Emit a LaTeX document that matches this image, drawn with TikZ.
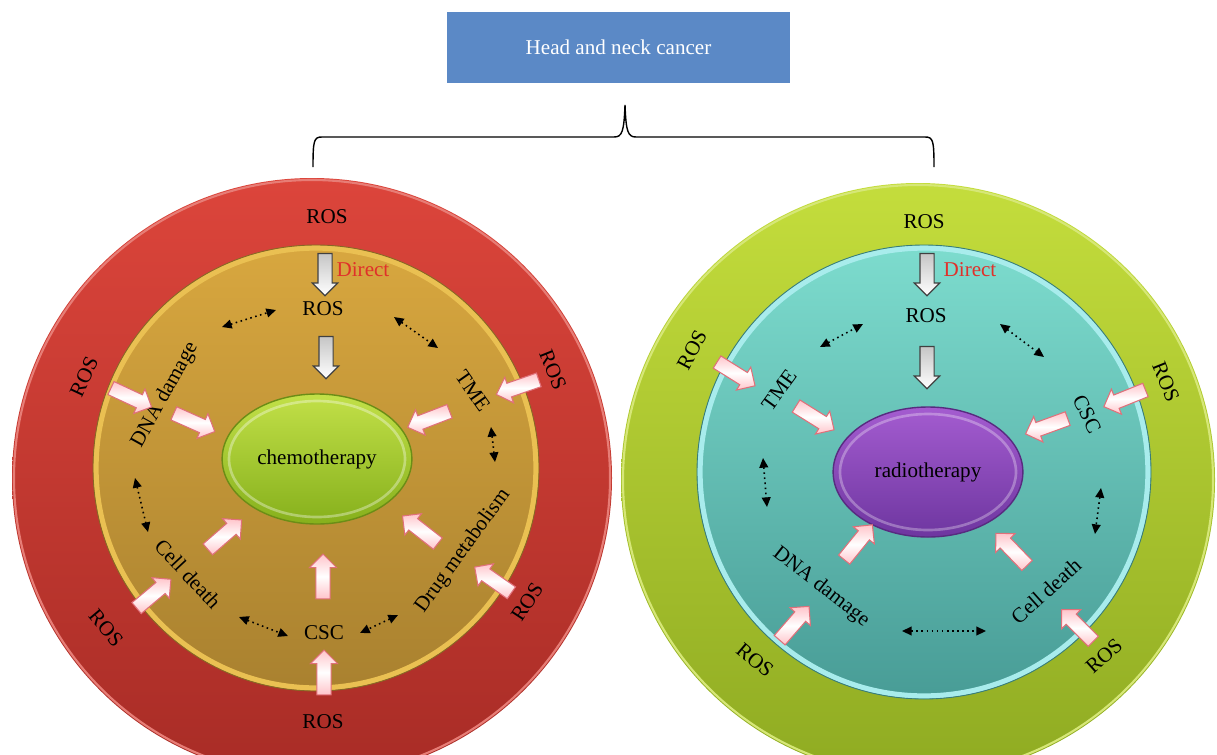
\documentclass[tikz,border=0pt]{standalone}
\usepackage{fontspec}
\setmainfont{Liberation Serif}
\usetikzlibrary{shapes.arrows,shapes.geometric,arrows.meta}

\definecolor{redtop}{HTML}{DC453B}
\definecolor{redbot}{HTML}{A82C26}
\definecolor{tantop}{HTML}{D8A73F}
\definecolor{tanbot}{HTML}{A9812F}
\definecolor{tanrim}{HTML}{EAC052}
\definecolor{limetop}{HTML}{C4DD3C}
\definecolor{limebot}{HTML}{8FAB22}
\definecolor{cyantop}{HTML}{7DDCCE}
\definecolor{cyanbot}{HTML}{489C96}
\definecolor{cyanrim}{HTML}{A8ECEC}
\definecolor{chemotop}{HTML}{C2E048}
\definecolor{chemobot}{HTML}{86B01C}
\definecolor{radiotop}{HTML}{A45CD0}
\definecolor{radiobot}{HTML}{6E36A0}
\definecolor{boxblue}{HTML}{5B89C6}
\definecolor{pinkfill}{HTML}{FFC4CA}
\definecolor{pinkedge}{HTML}{E0707A}
\definecolor{directred}{HTML}{E0302A}

\tikzset{
  lbl/.style={font=\fontsize{12}{14}\selectfont, text=black, inner sep=1pt},
  pinkarrow/.style={single arrow, draw=pinkedge, line width=0.6pt,
    top color=pinkfill, bottom color=pinkfill, middle color=white,
    inner xsep=0pt, inner ysep=3.8pt, minimum height=25.5pt,
    single arrow head extend=3.6pt},
  grayarrow/.style={single arrow, draw=black!75, line width=0.7pt,
    top color=gray!45, bottom color=white,
    inner xsep=0pt, inner ysep=3.7pt, minimum height=24pt,
    single arrow head extend=3.1pt, rotate=-90},
  dbl/.style={dotted, line width=0.9pt,
    {Triangle[length=5.5pt,width=5pt]}-{Triangle[length=5.5pt,width=5pt]}},
  therapy/.style={ellipse, font=\fontsize{12}{14}\selectfont, line width=0.8pt,
    minimum width=108pt, minimum height=74pt}
}

\begin{document}
\begin{tikzpicture}[x=0.02cm,y=-0.02cm]
  \useasboundingbox (0,0) rectangle (1217,754);
  \clip (0,0) rectangle (1217,754);

  % title and brace
  \node[fill=boxblue, text=white, font=\fontsize{12}{14}\selectfont,
    minimum width=195pt, minimum height=40.5pt] (hnc) at (618.5,47.5) {Head and neck cancer};
  \coordinate (btip) at (625,105);
  \coordinate (bleft) at (313,167);
  \coordinate (bright) at (934,167);
  \draw[line width=0.8pt] (bleft) .. controls (313,140) and (314,137) .. (322,137) -- (614,137)
    .. controls (622,137) and (624,132) .. (btip)
    .. controls (626,132) and (628,137) .. (636,137) -- (925,137)
    .. controls (933,137) and (934,140) .. (bright);

  % left: chemotherapy
  \coordinate (Lo) at (312,478);
  \coordinate (Li) at (316,468);
  \shade[top color=redtop, bottom color=redbot] (Lo) circle (300);
  \draw[redtop!70!white, line width=1.2pt] (Lo) circle (298);
  \shade[top color=tantop, bottom color=tanbot] (Li) circle (223);
  \draw[tanrim, line width=3pt] (Li) circle (220);
  \draw[tanbot!80!black, line width=0.5pt] (Li) circle (223);
  \node[therapy, draw=chemobot!80!black, top color=chemotop, bottom color=chemobot] (chemo) at (317,459) {chemotherapy};
  \draw[white, opacity=0.35, line width=1.5pt] (317,459) ellipse (88 and 58);

  \node[lbl] (lros0) at (327,217) {ROS};
  \node[lbl] (lros1) at (84,377) [rotate=65] {ROS};
  \node[lbl] (lros2) at (553,370) [rotate=-68] {ROS};
  \node[lbl] (lros3) at (106,628) [rotate=-50] {ROS};
  \node[lbl] (lros4) at (527,602) [rotate=57] {ROS};
  \node[lbl] (lros5) at (323,722) {ROS};

  \node[lbl] (lros) at (323,309) {ROS};
  \node[lbl, text=directred] (ldir) at (363,270) {Direct};
  \node[lbl] (ldna) at (165,395) [rotate=61] {DNA damage};
  \node[lbl] (ltme) at (473,391) [rotate=-55] {TME};
  \node[lbl] (ldrug) at (463,551) [rotate=54] {Drug metabolism};
  \node[lbl] (lcsc) at (324,633) {CSC};
  \node[lbl] (lcell) at (188,574) [rotate=-47] {Cell death};

  \node[grayarrow] (lg1) at (325,271) {};
  \node[grayarrow] (lg2) at (326,354) {};

  \node[pinkarrow, rotate=-25] (lp1) at (128,396) {};
  \node[pinkarrow, rotate=-24] (lp2) at (191,421) {};
  \node[pinkarrow, rotate=-161] (lp3) at (521,386) {};
  \node[pinkarrow, rotate=-159] (lp4) at (432,418) {};
  \node[pinkarrow, rotate=145] (lp5) at (496,582) {};
  \node[pinkarrow, rotate=142] (lp6) at (423,532) {};
  \node[pinkarrow, rotate=90] (lp7) at (324,676) {};
  \node[pinkarrow, rotate=90] (lp8) at (323,580) {};
  \node[pinkarrow, rotate=40] (lp9) at (151,596) {};
  \node[pinkarrow, rotate=41] (lp10) at (222,537) {};

  \coordinate (ld1a) at (222,327); \coordinate (ld1b) at (276,310);
  \coordinate (ld2a) at (394,317); \coordinate (ld2b) at (438,348);
  \coordinate (ld3a) at (491,427); \coordinate (ld3b) at (495,462);
  \coordinate (ld4a) at (398,615); \coordinate (ld4b) at (360,633);
  \coordinate (ld5a) at (239,617); \coordinate (ld5b) at (288,636);
  \coordinate (ld6a) at (135,478); \coordinate (ld6b) at (148,532);
  \draw[dbl] (ld1a) -- (ld1b);
  \draw[dbl] (ld2a) -- (ld2b);
  \draw[dbl] (ld3a) -- (ld3b);
  \draw[dbl] (ld4a) -- (ld4b);
  \draw[dbl] (ld5a) -- (ld5b);
  \draw[dbl] (ld6a) -- (ld6b);

  % right: radiotherapy
  \coordinate (Ro) at (918,480);
  \coordinate (Ri) at (924,472);
  \shade[top color=limetop, bottom color=limebot] (Ro) circle (297);
  \draw[limetop!70!white, line width=1.2pt] (Ro) circle (295);
  \shade[top color=cyantop, bottom color=cyanbot] (Ri) circle (227);
  \draw[cyanrim, line width=3pt] (Ri) circle (224);
  \draw[cyanbot!80!black, line width=0.5pt] (Ri) circle (227);
  \node[therapy, draw=radiobot!80!black, top color=radiotop, bottom color=radiobot] (radio) at (928,472) {radiotherapy};
  \draw[white, opacity=0.3, line width=1.5pt] (928,472) ellipse (88 and 58);

  \node[lbl] (rros0) at (924,222) {ROS};
  \node[lbl] (rros1) at (692,350) [rotate=62] {ROS};
  \node[lbl] (rros2) at (1166,382) [rotate=-68] {ROS};
  \node[lbl] (rros3) at (755,660) [rotate=-40] {ROS};
  \node[lbl] (rros4) at (1104,656) [rotate=42] {ROS};

  \node[lbl] (rros) at (926,316) {ROS};
  \node[lbl, text=directred] (rdir) at (970,270) {Direct};
  \node[lbl] (rtme) at (779,390) [rotate=54] {TME};
  \node[lbl] (rcsc) at (1087,414) [rotate=-64] {CSC};
  \node[lbl] (rdna) at (821,587) [rotate=-38] {DNA damage};
  \node[lbl] (rcell) at (1046,591) [rotate=42] {Cell death};

  \node[grayarrow] (rg1) at (927,271) {};
  \node[grayarrow] (rg2) at (927,364) {};

  \node[pinkarrow, rotate=-32] (rp1) at (733,372) {};
  \node[pinkarrow, rotate=-32] (rp2) at (812,416) {};
  \node[pinkarrow, rotate=-158] (rp3) at (1128,397) {};
  \node[pinkarrow, rotate=-160] (rp4) at (1050,425) {};
  \node[pinkarrow, rotate=49] (rp5) at (792,626) {};
  \node[pinkarrow, rotate=51] (rp6) at (856,545) {};
  \node[pinkarrow, rotate=134] (rp7) at (1014,552) {};
  \node[pinkarrow, rotate=135] (rp8) at (1080,628) {};

  \coordinate (rd1a) at (820,347); \coordinate (rd1b) at (863,324);
  \coordinate (rd2a) at (1000,324); \coordinate (rd2b) at (1044,357);
  \coordinate (rd3a) at (763,458); \coordinate (rd3b) at (767,507);
  \coordinate (rd4a) at (1101,488); \coordinate (rd4b) at (1095,534);
  \coordinate (rd5a) at (902,631); \coordinate (rd5b) at (986,631);
  \draw[dbl] (rd1a) -- (rd1b);
  \draw[dbl] (rd2a) -- (rd2b);
  \draw[dbl] (rd3a) -- (rd3b);
  \draw[dbl] (rd4a) -- (rd4b);
  \draw[dbl] (rd5a) -- (rd5b);
\end{tikzpicture}
\end{document}
